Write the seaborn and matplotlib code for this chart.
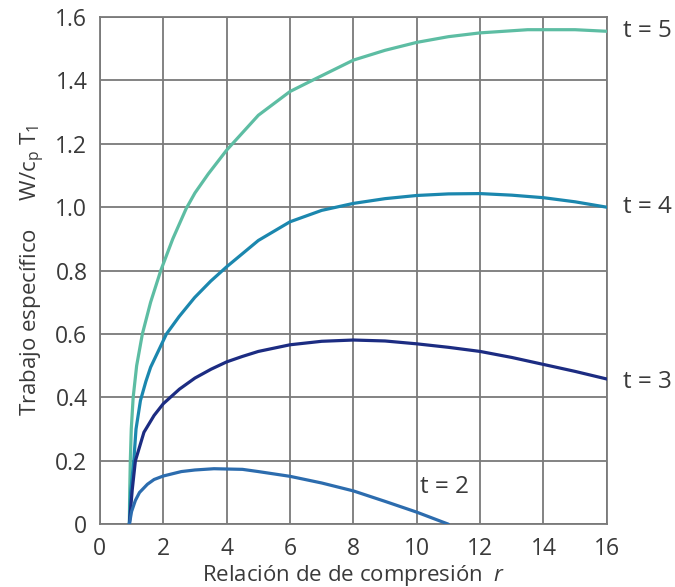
import pandas as pd
import matplotlib
matplotlib.use('Agg')
import matplotlib.pyplot as plt
import seaborn as sns

# Values (compression ratio r vs W/cpT1)
r_t5 = [0.93, 0.94, 0.96, 0.99, 1.05, 1.16, 1.34, 1.6, 1.92, 2.3, 2.72, 3.0, 3.42, 4.0, 5.0, 6.0, 6.7, 8.0, 9.0, 10.0, 11.0, 12.0, 13.5, 15.0, 16.0]
w_t5 = [0.0, 0.1, 0.2, 0.3, 0.4, 0.5, 0.6, 0.70, 0.8, 0.9, 0.995, 1.045, 1.105, 1.18, 1.29, 1.365, 1.4, 1.464, 1.495, 1.52, 1.538, 1.55, 1.56, 1.56, 1.555]

r_t4 = [0.93, 0.97, 1.07, 1.14, 1.28, 1.45, 1.6, 2.1, 2.5, 2.99, 3.5, 4.0, 5.0, 6.0, 7.0, 8.0, 9.0, 10.0, 11.0, 12.0, 13.0, 14.0, 15.0, 16.0]
w_t4 = [0.0, 0.1, 0.2, 0.3, 0.39, 0.45, 0.495, 0.6, 0.655, 0.715, 0.767, 0.812, 0.895, 0.954, 0.99, 1.012, 1.027, 1.037, 1.042, 1.043, 1.038, 1.03, 1.017, 1.0]

r_t3 = [0.93, 1.02, 1.12, 1.39, 1.71, 2.0, 2.51, 3.0, 3.51, 4.0, 4.49, 5.0, 6.0, 7.0, 8.0, 9.0, 10.0, 11.0, 12.0, 13.0, 14.0, 15.0, 16.0]
w_t3 = [0.0, 0.108, 0.2, 0.29, 0.343, 0.38, 0.426, 0.461, 0.489, 0.512, 0.529, 0.545, 0.566, 0.577, 0.581, 0.578, 0.569, 0.558, 0.545, 0.526, 0.504, 0.482, 0.458]

r_t2 = [0.93, 1.0, 1.12, 1.25, 1.5, 1.71, 2.0, 2.57, 3.0, 3.6, 4.5, 5.0, 6.0, 7.0, 8.0, 9.0, 10.0, 11.0]
w_t2 = [0.0, 0.04, 0.075, 0.1, 0.126, 0.141, 0.152, 0.166, 0.171, 0.175, 0.173, 0.166, 0.151, 0.13, 0.105, 0.072, 0.038, 0.0]

labels = ["t = 5", "t = 4", "t = 3", "t = 2"]
colors = ["#5dbda3", "#1b87ae", "#1c2c82", "#2c6cae"]

frames = []
for lab, r, w in zip(labels, [r_t5, r_t4, r_t3, r_t2], [w_t5, w_t4, w_t3, w_t2]):
    frames.append(pd.DataFrame({"r": r, "W": w, "t": lab}))
df = pd.concat(frames, ignore_index=True)

sns.set_style("white")
plt.rcParams['font.family'] = ['Open Sans', 'DejaVu Sans']
plt.rcParams['mathtext.fontset'] = 'custom'
plt.rcParams['mathtext.rm'] = 'Open Sans'
plt.rcParams['mathtext.it'] = 'Open Sans:italic'

fig = plt.figure(figsize=(6.75, 5.87), dpi=100)
ax = fig.add_axes([0.148, 0.107, 0.751, 0.864])

sns.lineplot(data=df, x="r", y="W", hue="t", palette=colors, sort=False,
             linewidth=2.3, legend=False, ax=ax, zorder=3)

ax.set_xlim(0, 16)
ax.set_ylim(0, 1.6)
ax.set_xticks(range(0, 17, 2))
ax.set_yticks([0, 0.2, 0.4, 0.6, 0.8, 1.0, 1.2, 1.4, 1.6])
ax.set_yticklabels(["0", "0.2", "0.4", "0.6", "0.8", "1.0", "1.2", "1.4", "1.6"])
ax.grid(True, color="#7a7a7a", linewidth=1.3)
for s in ax.spines.values():
    s.set_color("#7a7a7a")
    s.set_linewidth(1.3)
ax.tick_params(length=0, labelsize=16.5, labelcolor="#3a3a3a", pad=9)

ax.set_xlabel("Relación de de compresión  $\\it{r}$", fontsize=16, color="#3a3a3a", labelpad=2)
ax.set_ylabel("Trabajo específico     W/c$_\\mathrm{p}$ T$_1$", fontsize=16, color="#3a3a3a", labelpad=6)

tl = dict(fontsize=17.5, color="#3a3a3a", va="center")
ax.text(16.5, w_t5[-1], labels[0], clip_on=False, **tl)
ax.text(16.5, w_t4[-1], labels[1], clip_on=False, **tl)
ax.text(16.5, w_t3[-1] - 0.01, labels[2], clip_on=False, **tl)
ax.text(10.1, 0.118, labels[3], **tl)

plt.savefig("out.png", dpi=100)
plt.close()
